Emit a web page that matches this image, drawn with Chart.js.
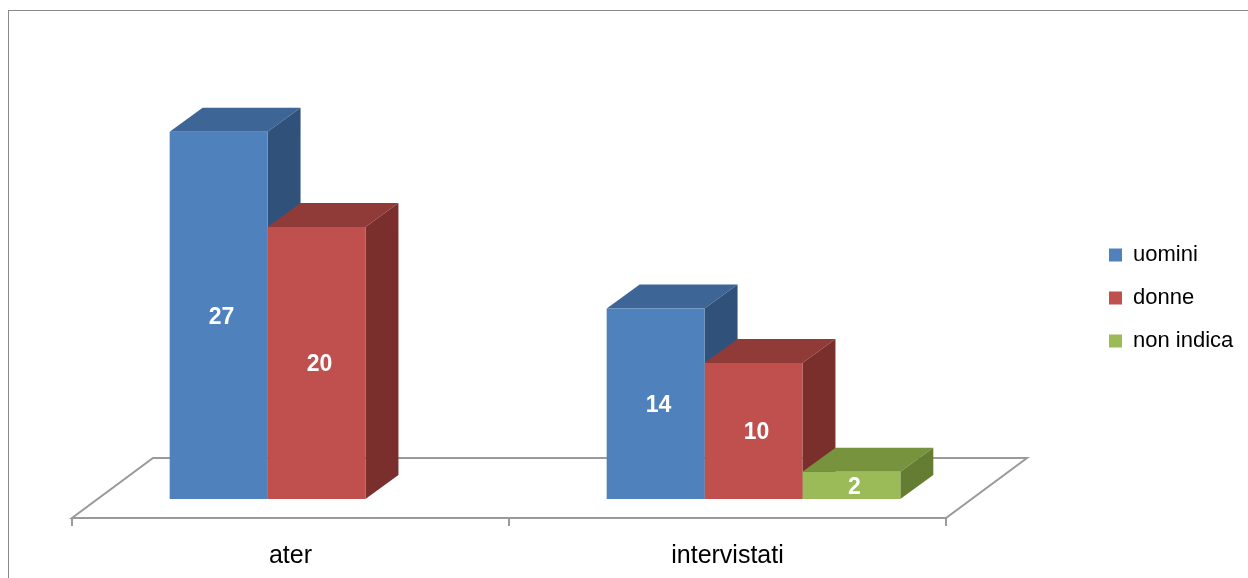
<!DOCTYPE html>
<html>
<head>
<meta charset="utf-8">
<script src="https://cdn.jsdelivr.net/npm/chart.js@4/dist/chart.umd.min.js"></script>
<style>
  html, body { margin: 0; padding: 0; background: #fff; overflow: hidden; }
  #frame { position: absolute; left: 8px; top: 10px; width: 1300px; height: 640px; border: 1px solid #898989; }
  #chart { position: absolute; left: 0; top: 0; }
</style>
</head>
<body>
<div id="frame"></div>
<canvas id="chart" width="1248" height="578"></canvas>
<script>
// data
const categories = ['ater', 'intervistati'];
const seriesNames = ['uomini', 'donne', 'non indica'];
const uomini = [27, 14];
const donne = [20, 10];
const nonIndica = [0, 2];

// colours: front / top / side of each series
const frontColors = ['#4F81BD', '#C0504D', '#9BBB59'];
const topColors = ['#3D6595', '#913B38', '#77933E'];
const sideColors = ['#30527A', '#7B2F2D', '#647D33'];

const FONT = '"Liberation Sans", Arial, sans-serif';

// 3D offsets (pixels)
const DEPTH_X = 33, DEPTH_Y = 24;
const FLOOR_FRONT_X = -26, FLOOR_FRONT_Y = 19;
const FLOOR_BACK_X = 55, FLOOR_BACK_Y = -41;

function poly(ctx, pts, fill) {
    ctx.beginPath();
    ctx.moveTo(pts[0][0], pts[0][1]);
    for (let i = 1; i < pts.length; i++) ctx.lineTo(pts[i][0], pts[i][1]);
    ctx.closePath();
    ctx.fillStyle = fill;
    ctx.fill();
}

// floor + top/side faces of the bars
const bars3d = {
    id: 'bars3d',
    beforeDatasetsDraw(chart) {
        const ctx = chart.ctx;
        const area = chart.chartArea;
        const n = categories.length;
        const step = (area.right - area.left) / n;

        // floor
        const fy = area.bottom + FLOOR_FRONT_Y, by = area.bottom + FLOOR_BACK_Y;
        const fl = area.left + FLOOR_FRONT_X, fr = area.right + FLOOR_FRONT_X;
        const bl = area.left + FLOOR_BACK_X, br = area.right + FLOOR_BACK_X;
        ctx.save();
        ctx.strokeStyle = '#9A9A9A';
        ctx.lineWidth = 2;
        ctx.beginPath();
        ctx.moveTo(fl, fy); ctx.lineTo(fr, fy); ctx.lineTo(br, by);
        ctx.lineTo(bl, by); ctx.closePath();
        ctx.stroke();
        // tick marks on the front edge
        ctx.beginPath();
        for (let i = 0; i <= n; i++) {
            const tx = fl + i * step;
            ctx.moveTo(tx, fy); ctx.lineTo(tx, fy + 8);
        }
        ctx.stroke();

        // bar sides and tops
        for (let i = 0; i < n; i++) {
            chart.data.datasets.forEach((ds, d) => {
                if (!ds.data[i]) return;
                const el = chart.getDatasetMeta(d).data[i];
                const x0 = el.x - el.width / 2, x1 = el.x + el.width / 2;
                const yt = el.y, yb = el.base;
                poly(ctx, [[x0, yt], [x0 + DEPTH_X, yt - DEPTH_Y], [x1 + DEPTH_X, yt - DEPTH_Y], [x1, yt]], topColors[d]);
                poly(ctx, [[x1, yt], [x1 + DEPTH_X, yt - DEPTH_Y], [x1 + DEPTH_X, yb - DEPTH_Y], [x1, yb]], sideColors[d]);
            });
        }
        ctx.restore();
    },
    afterDatasetsDraw(chart) {
        // value labels
        const ctx = chart.ctx;
        ctx.save();
        ctx.fillStyle = '#FFFFFF';
        ctx.font = 'bold 23px ' + FONT;
        ctx.textAlign = 'center';
        ctx.textBaseline = 'middle';
        chart.data.datasets.forEach((ds, d) => {
            chart.getDatasetMeta(d).data.forEach((el, i) => {
                if (!ds.data[i]) return;
                ctx.fillText(String(ds.data[i]), el.x + 3, (el.y + el.base) / 2 + 2);
            });
        });
        ctx.restore();
    },
    afterDraw(chart) {
        // legend on the right
        const ctx = chart.ctx;
        const area = chart.chartArea;
        const lx = area.right + 137;
        const midY = (area.top + area.bottom) / 2 + 3;
        const gap = 43;
        ctx.save();
        ctx.font = '22px ' + FONT;
        ctx.textBaseline = 'middle';
        ctx.textAlign = 'left';
        chart.data.datasets.forEach((ds, d) => {
            const y = midY + (d - 1) * gap;
            ctx.fillStyle = frontColors[d];
            ctx.fillRect(lx, y - 6.5, 13, 13);
            ctx.fillStyle = '#000000';
            ctx.fillText(ds.label, lx + 24, y);
        });
        ctx.restore();
    }
};

const ctx = document.getElementById('chart').getContext('2d');
new Chart(ctx, {
    type: 'bar',
    data: {
        labels: categories,
        datasets: [
            { label: seriesNames[0], data: uomini, backgroundColor: frontColors[0] },
            { label: seriesNames[1], data: donne, backgroundColor: frontColors[1] },
            { label: seriesNames[2], data: nonIndica, backgroundColor: frontColors[2] }
        ]
    },
    options: {
        responsive: false,
        animation: false,
        layout: { padding: { left: 98, right: 276, top: 91, bottom: 0 } },
        datasets: {
            bar: { barPercentage: 1, categoryPercentage: 0.672, borderWidth: 0 }
        },
        plugins: {
            legend: { display: false },
            tooltip: { enabled: false }
        },
        scales: {
            x: {
                grid: { display: false, drawTicks: false },
                border: { display: false },
                ticks: {
                    color: '#000000',
                    font: { family: FONT, size: 25 },
                    padding: 42,
                    labelOffset: FLOOR_FRONT_X
                },
                afterFit(scale) { scale.height = 79; }
            },
            y: {
                display: false,
                min: 0,
                max: 30
            }
        }
    },
    plugins: [bars3d]
});
</script>
</body>
</html>
